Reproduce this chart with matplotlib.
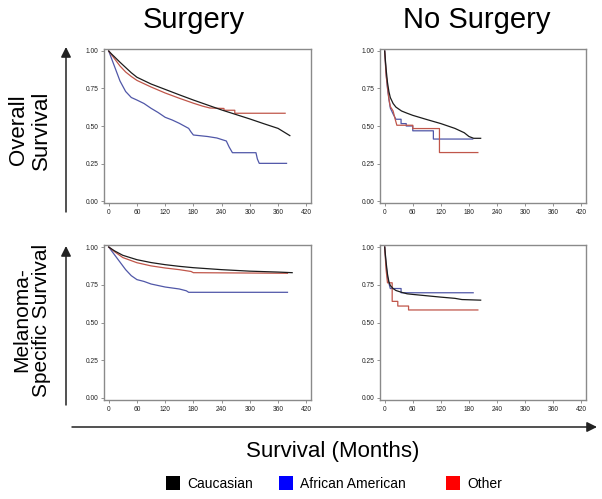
import matplotlib
matplotlib.use("Agg")
import matplotlib.pyplot as plt
from matplotlib.patches import Rectangle

plt.rcParams['font.family'] = ['Liberation Sans', 'DejaVu Sans']

W, H = 602, 499

# ---- data: (months, survival) vertices ----
# overall survival, surgery
os_s_cauc_t = [0, 6, 12, 24, 36, 48, 60, 90, 120, 150, 180, 210, 240, 270, 300, 330, 360, 385]
os_s_cauc_s = [1.0, 0.98, 0.962, 0.925, 0.89, 0.855, 0.825, 0.78, 0.744, 0.708, 0.673, 0.64, 0.607, 0.577, 0.547, 0.515, 0.484, 0.436]
os_s_afr_t = [0, 6, 12, 24, 36, 48, 60, 75, 90, 105, 120, 135, 150, 170, 175, 180, 210, 230, 240, 250, 256, 263, 313, 316, 320, 378]
os_s_afr_s = [1.0, 0.95, 0.9, 0.8, 0.73, 0.69, 0.673, 0.65, 0.618, 0.59, 0.558, 0.54, 0.518, 0.484, 0.46, 0.44, 0.43, 0.42, 0.41, 0.40, 0.36, 0.322, 0.322, 0.28, 0.251, 0.251]
os_s_oth_t = [0, 12, 24, 36, 48, 60, 90, 120, 150, 180, 200, 215, 245, 245, 268, 268, 375]
os_s_oth_s = [1.0, 0.95, 0.9, 0.86, 0.83, 0.804, 0.76, 0.72, 0.685, 0.652, 0.632, 0.62, 0.617, 0.605, 0.605, 0.585, 0.585]

# overall survival, no surgery
os_n_cauc_t = [0, 3, 6, 9, 12, 18, 24, 36, 48, 60, 90, 120, 150, 170, 180, 190, 205]
os_n_cauc_s = [1.0, 0.88, 0.79, 0.73, 0.69, 0.65, 0.626, 0.6, 0.585, 0.571, 0.543, 0.516, 0.484, 0.455, 0.43, 0.418, 0.418]
os_n_afr_t = [0, 3, 6, 9, 12, 18, 24, 35, 35, 46, 46, 60, 60, 104, 104, 188]
os_n_afr_s = [1.0, 0.85, 0.75, 0.68, 0.62, 0.58, 0.545, 0.545, 0.516, 0.516, 0.5, 0.5, 0.468, 0.468, 0.413, 0.413]
os_n_oth_t = [0, 3, 6, 9, 12, 18, 22, 26, 60, 60, 117, 117, 199]
os_n_oth_s = [1.0, 0.84, 0.76, 0.68, 0.63, 0.6, 0.55, 0.505, 0.505, 0.483, 0.483, 0.323, 0.323]

# melanoma-specific survival, surgery
ms_s_cauc_t = [0, 12, 30, 60, 90, 120, 150, 180, 240, 300, 360, 390]
ms_s_cauc_s = [1.0, 0.975, 0.945, 0.916, 0.897, 0.883, 0.872, 0.863, 0.85, 0.84, 0.834, 0.83]
ms_s_afr_t = [0, 12, 24, 36, 48, 60, 75, 90, 120, 150, 165, 170, 380]
ms_s_afr_s = [1.0, 0.95, 0.9, 0.85, 0.81, 0.784, 0.772, 0.755, 0.735, 0.722, 0.71, 0.70, 0.70]
ms_s_oth_t = [0, 12, 30, 60, 90, 120, 150, 175, 180, 380]
ms_s_oth_s = [1.0, 0.97, 0.93, 0.896, 0.875, 0.861, 0.85, 0.838, 0.83, 0.826]

# melanoma-specific survival, no surgery
ms_n_cauc_t = [0, 3, 6, 9, 12, 18, 24, 36, 48, 60, 90, 120, 150, 165, 205]
ms_n_cauc_s = [1.0, 0.9, 0.82, 0.77, 0.745, 0.725, 0.712, 0.7, 0.69, 0.686, 0.677, 0.668, 0.66, 0.652, 0.648]
ms_n_afr_t = [0, 3, 6, 9, 12, 35, 35, 189]
ms_n_afr_s = [1.0, 0.88, 0.8, 0.76, 0.725, 0.725, 0.697, 0.697]
ms_n_oth_t = [0, 3, 6, 16, 16, 28, 28, 51, 51, 199]
ms_n_oth_s = [1.0, 0.85, 0.763, 0.763, 0.64, 0.64, 0.609, 0.609, 0.583, 0.583]

groups = ['Caucasian', 'African American', 'Other']
line_colors = ['#1c1c1c', '#5057a8', '#c0564a']
legend_colors = ['#000000', '#0000ff', '#ff0000']
x_ticks = [0, 60, 120, 180, 240, 300, 360, 420]
y_ticks = [0.0, 0.25, 0.5, 0.75, 1.0]

panels = [
    # (left, top, right, bottom) in pixels, curves
    ((104, 49, 311, 203), [(os_s_cauc_t, os_s_cauc_s), (os_s_afr_t, os_s_afr_s), (os_s_oth_t, os_s_oth_s)]),
    ((380, 49, 586, 203), [(os_n_cauc_t, os_n_cauc_s), (os_n_afr_t, os_n_afr_s), (os_n_oth_t, os_n_oth_s)]),
    ((104, 245, 311, 400), [(ms_s_cauc_t, ms_s_cauc_s), (ms_s_afr_t, ms_s_afr_s), (ms_s_oth_t, ms_s_oth_s)]),
    ((380, 245, 586, 400), [(ms_n_cauc_t, ms_n_cauc_s), (ms_n_afr_t, ms_n_afr_s), (ms_n_oth_t, ms_n_oth_s)]),
]

fig = plt.figure(figsize=(W / 100, H / 100), dpi=100)
fig.patch.set_facecolor('white')

for (l, t, r, b), curves in panels:
    ax = fig.add_axes([l / W, 1 - b / H, (r - l) / W, (b - t) / H])
    # draw african american and other first, caucasian on top
    for i in [1, 2, 0]:
        ax.plot(curves[i][0], curves[i][1], color=line_colors[i], lw=0.9)
    ax.set_xlim(-10, 430)
    ax.set_ylim(-0.0133, 1.0133)
    ax.set_xticks(x_ticks)
    ax.set_yticks(y_ticks)
    ax.set_yticklabels([f'{v:.2f}' for v in y_ticks])
    ax.tick_params(labelsize=4.8, length=2, width=0.6, color='#808080', pad=2, labelcolor='#222222')
    for sp in ax.spines.values():
        sp.set_color('#8a8a8a')
        sp.set_linewidth(1.0)

# overlay for titles, arrows and legend, in pixel units
ov = fig.add_axes([0, 0, 1, 1], zorder=-1)
ov.set_xlim(0, W)
ov.set_ylim(H, 0)
ov.axis('off')

ov.text(194, 20, 'Surgery', ha='center', va='center', fontsize=21)
ov.text(477, 20, 'No Surgery', ha='center', va='center', fontsize=21)
ov.text(30, 130, 'Overall\nSurvival', ha='center', va='center', rotation=90, fontsize=16, linespacing=1.15)
ov.text(32, 320, 'Melanoma-\nSpecific Survival', ha='center', va='center', rotation=90, fontsize=15, linespacing=1.05)
ov.text(333, 452, 'Survival (Months)', ha='center', va='center', fontsize=16)

arrow = dict(arrowstyle='-|>,head_length=0.6,head_width=0.3', lw=1.1, color='#222222', shrinkA=0, shrinkB=0)
ov.annotate('', xy=(66, 47), xytext=(66, 212), arrowprops=arrow)
ov.annotate('', xy=(66, 246), xytext=(66, 405), arrowprops=arrow)
ov.annotate('', xy=(597, 427), xytext=(72, 427), arrowprops=arrow)

leg_x = [166, 279, 446]
for name, col, x in zip(groups, legend_colors, leg_x):
    ov.add_patch(Rectangle((x, 476), 14, 14, facecolor=col, edgecolor='none'))
    ov.text(x + 21, 484, name, ha='left', va='center', fontsize=10)

fig.savefig('out.png', dpi=100)
